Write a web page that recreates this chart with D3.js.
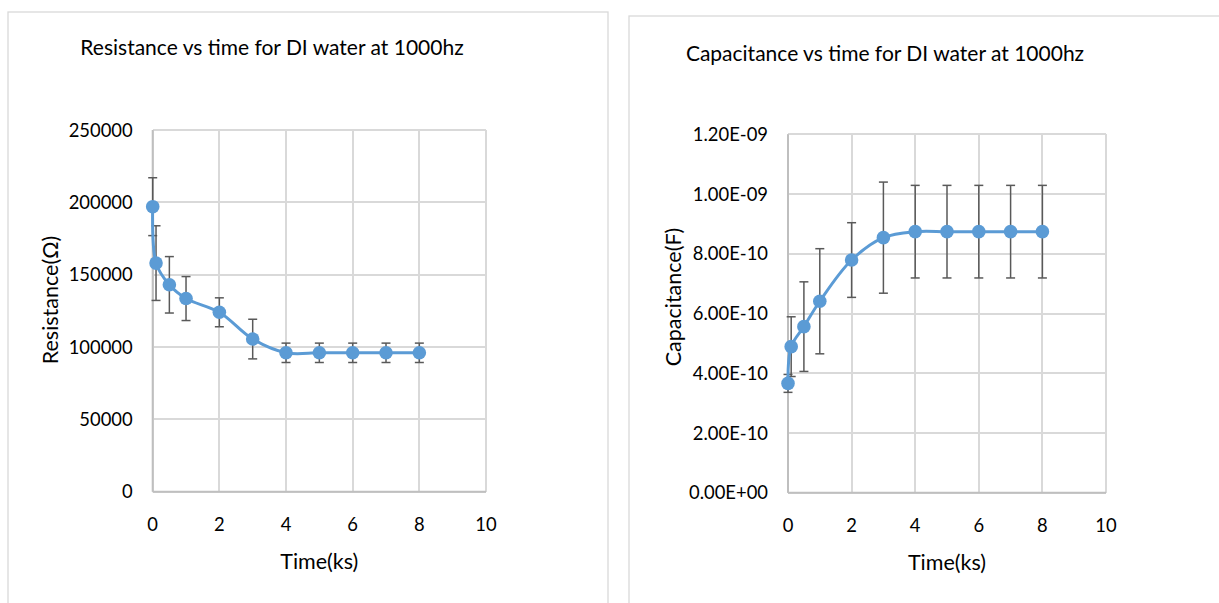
<!DOCTYPE html>
<html lang="en">
<head>
    <meta charset="UTF-8">
    <title>DI water at 1000hz</title>
    <style>
        body { margin: 0; background: #fff; }
        text { font-family: Lato, "Open Sans", sans-serif; fill: #000; }
        .grid line { stroke: #d9d9d9; stroke-width: 2px; shape-rendering: crispEdges; }
        .line { fill: none; stroke: #5b9bd5; stroke-width: 3px; }
        .err { stroke: #595959; stroke-width: 1.5px; fill: none; }
    </style>
    <script src="https://d3js.org/d3.v7.min.js"></script>
</head>
<body>
<svg width="1219" height="603"></svg>
<script>
// time points (ks)
const times = [0, 0.1, 0.5, 1, 2, 3, 4, 5, 6, 7, 8];

// resistance (ohm) and error
const resistance = [197000, 158000, 143000, 133500, 124000, 105500, 96000, 96000, 96000, 96000, 96000];
const resistanceErr = [20000, 25800, 19500, 15200, 10000, 13700, 6700, 6700, 6700, 6700, 6700];

// capacitance (F) and error
const capacitance = [3.66e-10, 4.89e-10, 5.56e-10, 6.41e-10, 7.79e-10, 8.54e-10, 8.74e-10, 8.74e-10, 8.74e-10, 8.74e-10, 8.74e-10];
const capacitanceErr = [3e-11, 1.0e-10, 1.5e-10, 1.76e-10, 1.25e-10, 1.86e-10, 1.55e-10, 1.55e-10, 1.55e-10, 1.55e-10, 1.55e-10];

const xTicks = [0, 2, 4, 6, 8, 10];
const resTicks = [0, 50000, 100000, 150000, 200000, 250000];
const resTickLabels = ["0", "50000", "100000", "150000", "200000", "250000"];
const capTicks = [0, 2e-10, 4e-10, 6e-10, 8e-10, 1e-9, 1.2e-9];
const capTickLabels = ["0.00E+00", "2.00E-10", "4.00E-10", "6.00E-10", "8.00E-10", "1.00E-09", "1.20E-09"];

const svg = d3.select("svg");

function drawChart(cfg) {
    const g = svg.append("g");

    // chart frame
    g.append("rect")
        .attr("x", cfg.frame[0]).attr("y", cfg.frame[1])
        .attr("width", cfg.frame[2]).attr("height", cfg.frame[3])
        .attr("fill", "#fff").attr("stroke", "#d9d9d9").attr("stroke-width", 1.3);

    const x = d3.scaleLinear().domain([0, 10]).range([cfg.left, cfg.right]);
    const y = d3.scaleLinear().domain(cfg.yDomain).range([cfg.bottom, cfg.top]);

    // gridlines
    const grid = g.append("g").attr("class", "grid");
    grid.selectAll(".h").data(cfg.yTicks).join("line")
        .attr("x1", cfg.left).attr("x2", cfg.right)
        .attr("y1", d => Math.round(y(d))).attr("y2", d => Math.round(y(d)));
    grid.selectAll(".v").data(xTicks).join("line")
        .attr("y1", cfg.top).attr("y2", cfg.bottom)
        .attr("x1", d => Math.round(x(d))).attr("x2", d => Math.round(x(d)));

    // axis lines
    g.append("line")
        .attr("x1", cfg.left).attr("x2", cfg.right)
        .attr("y1", cfg.bottom).attr("y2", cfg.bottom)
        .attr("stroke", "#bfbfbf").attr("stroke-width", 2);
    g.append("line")
        .attr("x1", cfg.left).attr("x2", cfg.left)
        .attr("y1", cfg.top).attr("y2", cfg.bottom)
        .attr("stroke", "#bfbfbf").attr("stroke-width", 2);

    // tick labels
    g.selectAll(".yt").data(cfg.yTicks).join("text")
        .attr("x", cfg.left - 20).attr("y", d => y(d))
        .attr("dy", "0.36em").attr("text-anchor", "end")
        .attr("font-size", 18.4)
        .text((d, i) => cfg.yTickLabels[i]);
    g.selectAll(".xt").data(xTicks).join("text")
        .attr("x", d => x(d)).attr("y", cfg.bottom + 39)
        .attr("text-anchor", "middle")
        .attr("font-size", 18.4)
        .text(d => d);

    // titles
    g.append("text")
        .attr("x", cfg.titleX).attr("y", cfg.titleY)
        .attr("text-anchor", "middle").attr("font-size", 21)
        .text(cfg.title);
    g.append("text")
        .attr("x", (cfg.left + cfg.right) / 2).attr("y", cfg.bottom + 77)
        .attr("text-anchor", "middle").attr("font-size", 21.5)
        .text("Time(ks)");
    g.append("text")
        .attr("transform", `translate(${cfg.yLabelX},${cfg.yLabelY}) rotate(-90)`)
        .attr("text-anchor", "middle").attr("font-size", 21.5)
        .text(cfg.yLabel);

    const pts = times.map((t, i) => ({t, v: cfg.values[i], e: cfg.errs[i]}));

    // error bars
    const eb = g.append("g").attr("class", "err");
    pts.forEach(d => {
        const cx = x(d.t), y1 = y(d.v + d.e), y2 = y(d.v - d.e);
        eb.append("line").attr("x1", cx).attr("x2", cx).attr("y1", y1).attr("y2", y2);
        eb.append("line").attr("x1", cx - 4.5).attr("x2", cx + 4.5).attr("y1", y1).attr("y2", y1);
        eb.append("line").attr("x1", cx - 4.5).attr("x2", cx + 4.5).attr("y1", y2).attr("y2", y2);
    });

    // smoothed line
    const line = d3.line()
        .x(d => x(d.t))
        .y(d => y(d.v))
        .curve(d3.curveCatmullRom.alpha(0.5));
    g.append("path").datum(pts).attr("class", "line").attr("d", line);

    // markers
    g.selectAll(".pt").data(pts).join("circle")
        .attr("cx", d => x(d.t)).attr("cy", d => y(d.v))
        .attr("r", 6.8).attr("fill", "#5b9bd5");
}

drawChart({
    frame: [8, 12, 600, 600],
    left: 152.7, right: 486, top: 130, bottom: 491.7,
    yDomain: [0, 250000],
    yTicks: resTicks, yTickLabels: resTickLabels,
    values: resistance, errs: resistanceErr,
    title: "Resistance vs time for DI water at 1000hz",
    titleX: 272, titleY: 55,
    yLabel: "Resistance(\u03A9)", yLabelX: 58, yLabelY: 300
});

drawChart({
    frame: [629, 16, 600, 600],
    left: 788, right: 1106, top: 134.3, bottom: 492.7,
    yDomain: [0, 1.2e-9],
    yTicks: capTicks, yTickLabels: capTickLabels,
    values: capacitance, errs: capacitanceErr,
    title: "Capacitance vs time for DI water at 1000hz",
    titleX: 885, titleY: 61,
    yLabel: "Capacitance(F)", yLabelX: 681, yLabelY: 297
});
</script>
</body>
</html>
